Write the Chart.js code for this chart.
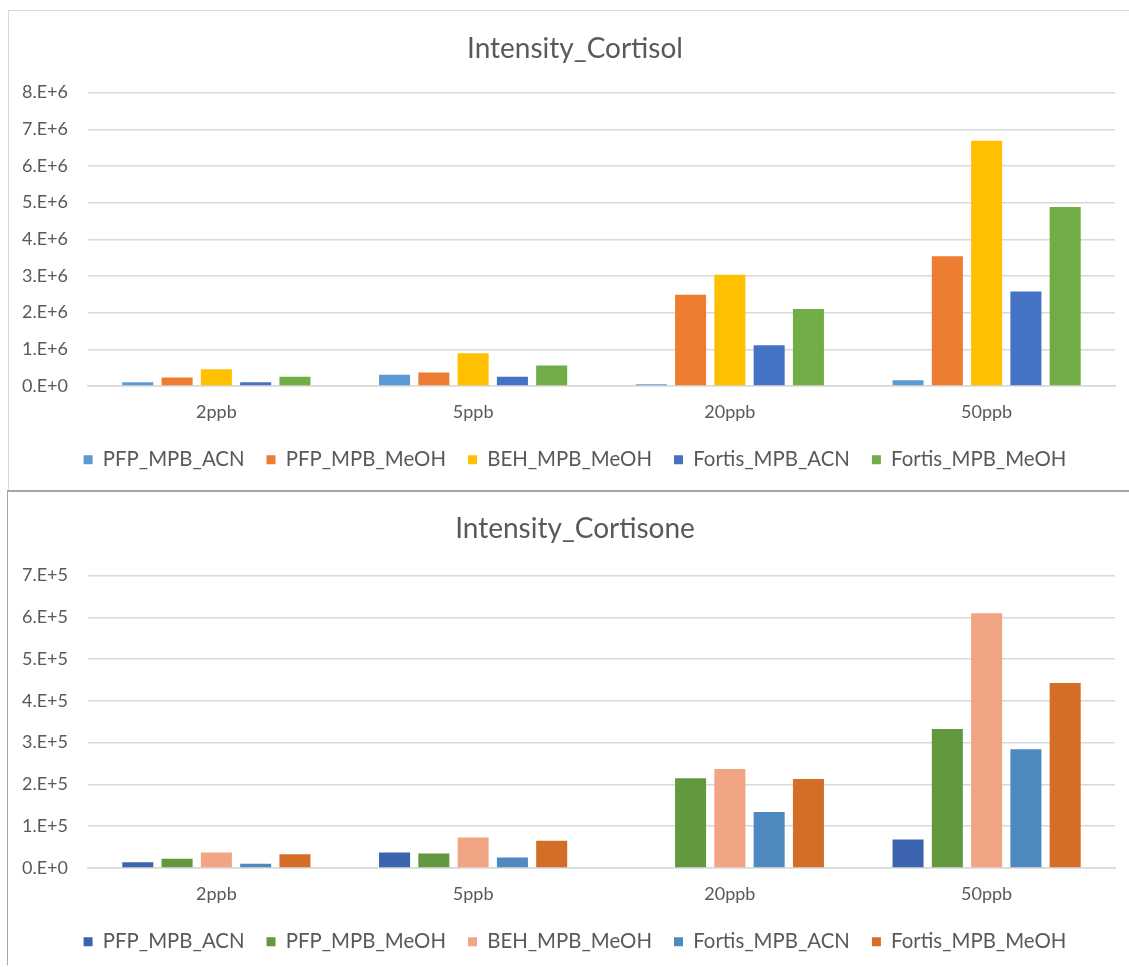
<!DOCTYPE html>
<html>
<head>
<meta charset="utf-8">
<script src="https://cdn.jsdelivr.net/npm/chart.js@4.4.1/dist/chart.umd.min.js"></script>
<style>
  html, body { margin: 0; padding: 0; background: #fff; overflow: hidden; }
  #page { position: relative; width: 1129px; height: 967px; overflow: hidden; }
  .wrap { position: absolute; left: 8px; width: 1121px; }
  #topWrap { top: 10px; height: 480px; }
  #botWrap { top: 490px; height: 482px; }
  .line { position: absolute; pointer-events: none; }
</style>
</head>
<body>
<div id="page">
  <div class="wrap" id="topWrap"><canvas id="cortisolChart"></canvas></div>
  <div class="wrap" id="botWrap"><canvas id="cortisoneChart"></canvas></div>
  <div class="line" style="left:8px;top:10px;width:1121px;height:1px;background:#d9d9d9"></div>
  <div class="line" style="left:8px;top:10px;width:1px;height:480px;background:#d9d9d9"></div>
  <div class="line" style="left:7px;top:490px;width:1122px;height:2px;background:#a6a6a6"></div>
  <div class="line" style="left:7px;top:490px;width:1px;height:475px;background:#a6a6a6"></div>
</div>
<script>
const categories = ['2ppb', '5ppb', '20ppb', '50ppb'];
const seriesNames = ['PFP_MPB_ACN', 'PFP_MPB_MeOH', 'BEH_MPB_MeOH', 'Fortis_MPB_ACN', 'Fortis_MPB_MeOH'];

// Intensity_Cortisol
const cortisolPfpAcn = [0.10e6, 0.31e6, 0.05e6, 0.16e6];
const cortisolPfpMeoh = [0.23e6, 0.37e6, 2.49e6, 3.54e6];
const cortisolBehMeoh = [0.46e6, 0.89e6, 3.03e6, 6.69e6];
const cortisolFortisAcn = [0.10e6, 0.25e6, 1.11e6, 2.58e6];
const cortisolFortisMeoh = [0.25e6, 0.56e6, 2.10e6, 4.88e6];
const cortisolTicks = [0, 1e6, 2e6, 3e6, 4e6, 5e6, 6e6, 7e6, 8e6];

// Intensity_Cortisone
const cortisonePfpAcn = [0.14e5, 0.37e5, 0, 0.68e5];
const cortisonePfpMeoh = [0.22e5, 0.35e5, 2.15e5, 3.33e5];
const cortisoneBehMeoh = [0.37e5, 0.73e5, 2.37e5, 6.10e5];
const cortisoneFortisAcn = [0.10e5, 0.25e5, 1.34e5, 2.84e5];
const cortisoneFortisMeoh = [0.33e5, 0.65e5, 2.13e5, 4.43e5];
const cortisoneTicks = [0, 1e5, 2e5, 3e5, 4e5, 5e5, 6e5, 7e5];

const cortisolColors = ['#5B9BD5', '#ED7D31', '#FFC000', '#4472C4', '#70AD47'];
const cortisoneColors = ['#3C64AE', '#62993E', '#F2A584', '#4E89C0', '#D46E27'];

const textColor = '#595959';
const gridColor = '#d9d9d9';
const fontFamily = "Lato, 'Liberation Sans', sans-serif";

function sciLabel(value, exp) {
  if (value === 0) return '0.E+0';
  return Math.round(value / Math.pow(10, exp)) + '.E+' + exp;
}

// legend sits a bit closer to the axis labels than Chart.js puts it
const legendLift = {
  id: 'legendLift',
  afterLayout(chart, args, opts) {
    const lg = chart.legend;
    if (!lg) return;
    lg.top -= opts.lift;
    lg.bottom -= opts.lift;
  }
};

function renderChart(canvasId, title, seriesData, colors, ticks, exp, titleGap) {
  const ctx = document.getElementById(canvasId).getContext('2d');
  const datasets = seriesData.map((data, i) => ({
    label: seriesNames[i],
    data: data,
    backgroundColor: colors[i],
    borderWidth: 0,
    barPercentage: 0.79,
    categoryPercentage: 0.765
  }));

  return new Chart(ctx, {
    type: 'bar',
    data: { labels: categories, datasets: datasets },
    options: {
      responsive: true,
      maintainAspectRatio: false,
      animation: false,
      layout: { padding: { left: 27, right: 14, top: 0, bottom: 0 } },
      scales: {
        x: {
          grid: { display: false, drawTicks: false },
          border: { display: true, color: gridColor, width: 1.5 },
          ticks: { color: textColor, padding: 15, font: { family: fontFamily, size: 18 } }
        },
        y: {
          min: 0,
          max: ticks[ticks.length - 1],
          afterBuildTicks: (scale) => {
            scale.ticks = ticks.map(v => ({ value: v }));
          },
          afterFit: (scale) => { scale.width = 53; },
          grid: { color: gridColor, lineWidth: 1.5, drawTicks: false },
          border: { display: false },
          ticks: {
            color: textColor,
            mirror: true,
            padding: -66,
            font: { family: fontFamily, size: 18 },
            callback: (value) => sciLabel(value, exp)
          }
        }
      },
      plugins: {
        title: {
          display: true,
          text: title,
          color: textColor,
          font: { family: fontFamily, size: 28, weight: 'normal' },
          padding: { top: 22, bottom: titleGap }
        },
        legend: {
          position: 'bottom',
          labels: {
            color: textColor,
            boxWidth: 9,
            boxHeight: 9,
            padding: 22,
            font: { family: fontFamily, size: 20.4 }
          }
        },
        legendLift: { lift: 10 },
        tooltip: { enabled: false }
      }
    },
    plugins: [legendLift]
  });
}

renderChart('cortisolChart', 'Intensity_Cortisol',
  [cortisolPfpAcn, cortisolPfpMeoh, cortisolBehMeoh, cortisolFortisAcn, cortisolFortisMeoh],
  cortisolColors, cortisolTicks, 6, 27);

renderChart('cortisoneChart', 'Intensity_Cortisone',
  [cortisonePfpAcn, cortisonePfpMeoh, cortisoneBehMeoh, cortisoneFortisAcn, cortisoneFortisMeoh],
  cortisoneColors, cortisoneTicks, 5, 30);
</script>
</body>
</html>
